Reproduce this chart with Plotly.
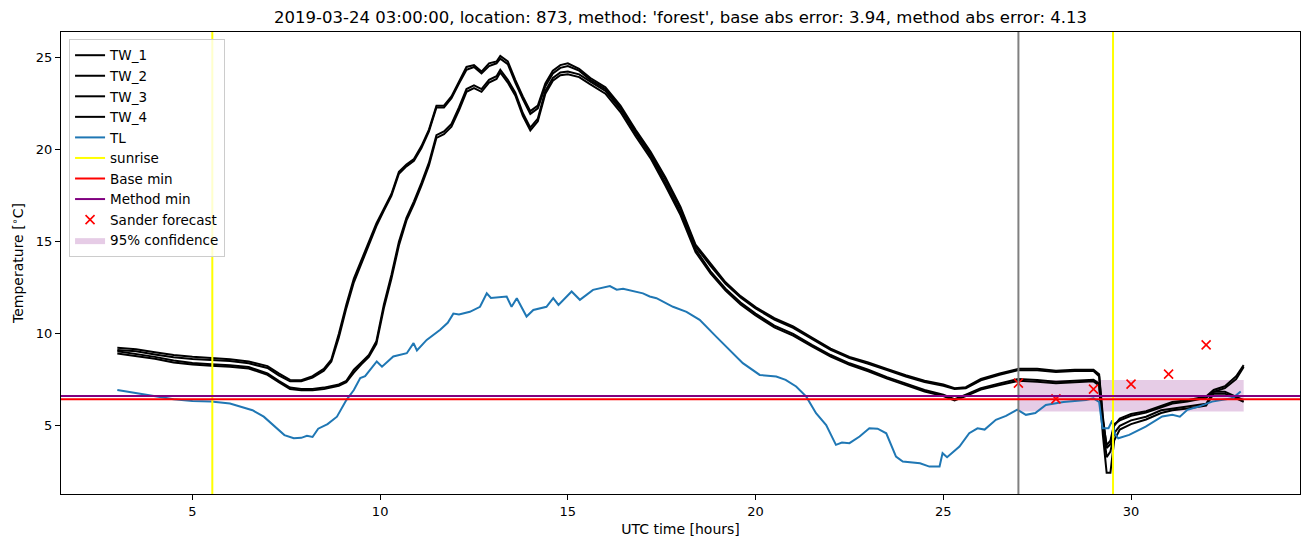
import plotly.graph_objects as go

# ---------------- data ----------------
tw_hours = [3.0, 3.5, 4.0, 4.5, 5.0, 5.5, 6.0, 6.5, 7.0, 7.3,
            7.6, 7.9, 8.2, 8.5, 8.7, 8.9, 9.1, 9.3, 9.5, 9.7,
            9.9, 10.1, 10.3, 10.5, 10.7, 10.9, 11.1, 11.3, 11.5, 11.7,
            11.9, 12.1, 12.3, 12.5, 12.7, 12.9, 13.1, 13.2, 13.4, 13.6,
            13.8, 14.0, 14.2, 14.4, 14.6, 14.8, 15.0, 15.3, 15.6, 16.0,
            16.4, 16.8, 17.2, 17.6, 18.0, 18.4, 18.8, 19.2, 19.6, 20.0,
            20.5, 21.0, 21.5, 22.0, 22.5, 23.0, 23.5, 24.0, 24.5, 25.0,
            25.3, 25.6, 26.0, 26.5, 27.0, 27.5, 28.0, 28.5, 29.0, 29.15,
            29.25, 29.35, 29.45, 29.55, 29.7, 30.0, 30.4, 30.8, 31.1, 31.5,
            32.0, 32.2, 32.5, 32.8, 33.0]

tw_1 = [9.25, 9.17, 9.0, 8.85, 8.75, 8.68, 8.62, 8.5, 8.25, 7.85,
        7.5, 7.48, 7.7, 8.1, 8.6, 10.0, 11.6, 13.0, 14.0, 15.0,
        16.0, 16.8, 17.6, 18.8, 19.2, 19.5, 20.2, 21.1, 22.4, 22.4,
        22.9, 23.7, 24.5, 24.6, 24.25, 24.7, 24.8, 25.1, 24.8, 23.8,
        22.9, 22.1, 22.4, 23.6, 24.3, 24.6, 24.7, 24.4, 23.9, 23.4,
        22.4, 21.1, 19.9, 18.5, 16.9, 14.85, 13.8, 12.8, 12.05, 11.45,
        10.85, 10.4, 9.8, 9.2, 8.75, 8.45, 8.1, 7.75, 7.45, 7.25,
        7.05, 7.1, 7.55, 7.85, 8.1, 8.1, 8.0, 8.05, 8.05, 7.8,
        5.5, 3.8, 4.0, 5.0, 5.4, 5.65, 5.8, 6.1, 6.3, 6.4,
        6.6, 6.95, 7.15, 7.7, 8.3]

tw_2 = [9.13, 9.05, 8.88, 8.73, 8.63, 8.57, 8.52, 8.4, 8.15, 7.75,
        7.42, 7.42, 7.62, 8.0, 8.5, 9.8, 11.4, 12.8, 13.85, 14.85,
        15.85, 16.7, 17.5, 18.7, 19.1, 19.4, 20.1, 21.0, 22.3, 22.3,
        22.8, 23.6, 24.35, 24.5, 24.15, 24.55, 24.7, 24.95, 24.65, 23.65,
        22.75, 21.95, 22.25, 23.45, 24.15, 24.45, 24.55, 24.3, 23.8, 23.3,
        22.3, 21.0, 19.8, 18.4, 16.8, 14.75, 13.7, 12.72, 11.98, 11.38,
        10.78, 10.33, 9.73, 9.13, 8.68, 8.38, 8.03, 7.68, 7.38, 7.18,
        7.0, 7.05, 7.48, 7.78, 8.03, 8.03, 7.93, 7.98, 7.98, 7.7,
        5.3, 3.95, 4.2, 5.1, 5.3, 5.55, 5.72, 6.02, 6.22, 6.32,
        6.52, 6.85, 7.05, 7.55, 8.2]

tw_3 = [9.05, 8.9, 8.75, 8.55, 8.42, 8.35, 8.3, 8.2, 7.85, 7.45,
        7.08, 7.0, 7.0, 7.08, 7.15, 7.25, 7.45, 8.05, 8.45, 8.85,
        9.6, 11.6, 13.2, 15.0, 16.3, 17.2, 18.2, 19.3, 20.8, 21.0,
        21.4, 22.3, 23.3, 23.5, 23.3, 23.8, 24.0, 24.35, 23.8, 23.1,
        22.0, 21.2, 21.7, 23.2, 23.9, 24.2, 24.25, 24.1, 23.7, 23.2,
        22.2, 20.9, 19.7, 18.2, 16.6, 14.6, 13.4, 12.45, 11.7, 11.1,
        10.45, 10.0, 9.4, 8.85, 8.4, 8.05, 7.65, 7.3, 6.95, 6.7,
        6.45, 6.7, 7.05, 7.3, 7.55, 7.5, 7.4, 7.45, 7.5, 7.3,
        5.0, 3.3, 3.6, 4.6, 5.0, 5.3, 5.5, 5.85, 5.95, 6.05,
        6.2, 6.85, 6.85, 6.6, 6.4]

tw_4 = [8.93, 8.8, 8.65, 8.45, 8.33, 8.27, 8.22, 8.12, 7.77, 7.37,
        7.0, 6.93, 6.93, 7.01, 7.08, 7.18, 7.38, 7.9, 8.35, 8.75,
        9.45, 11.4, 13.0, 14.8, 16.15, 17.05, 18.05, 19.15, 20.65, 20.85,
        21.25, 22.15, 23.15, 23.35, 23.15, 23.65, 23.85, 24.2, 23.65, 22.95,
        21.85, 21.05, 21.55, 23.05, 23.75, 24.05, 24.1, 23.95, 23.55, 23.05,
        22.05, 20.75, 19.55, 18.05, 16.45, 14.45, 13.28, 12.35, 11.6, 11.0,
        10.35, 9.9, 9.32, 8.77, 8.32, 7.97, 7.57, 7.22, 6.87, 6.62,
        6.38, 6.62, 6.97, 7.22, 7.45, 7.4, 7.32, 7.37, 7.42, 7.2,
        4.5, 2.45, 2.45, 4.2, 4.8, 5.1, 5.35, 5.7, 5.85, 5.95,
        6.1, 6.75, 6.75, 6.5, 6.3]

tl_hours = [3.0, 3.3, 3.6, 4.0, 4.5, 5.0, 5.5, 6.0, 6.3, 6.6,
            6.9, 7.2, 7.45, 7.7, 7.9, 8.05, 8.2, 8.35, 8.6, 8.85,
            9.1, 9.3, 9.47, 9.6, 9.73, 9.91, 10.05, 10.35, 10.71, 10.89,
            10.98, 11.24, 11.6, 11.8, 11.95, 12.1, 12.39, 12.66, 12.84, 12.95,
            13.37, 13.5, 13.64, 13.9, 14.08, 14.43, 14.61, 14.75, 15.1, 15.32,
            15.67, 16.12, 16.3, 16.47, 17.0, 17.18, 17.36, 17.8, 18.16, 18.51,
            18.95, 19.22, 19.66, 20.11, 20.55, 20.8, 21.08, 21.35, 21.61, 21.88,
            22.14, 22.3, 22.5, 22.77, 23.03, 23.25, 23.48, 23.74, 23.92, 24.38,
            24.63, 24.9, 24.98, 25.1, 25.43, 25.69, 25.91, 26.1, 26.4, 26.67,
            26.97, 27.2, 27.45, 27.73, 28.2, 28.8, 29.0, 29.15, 29.24, 29.4,
            29.5, 29.56, 29.66, 29.95, 30.39, 30.83, 31.1, 31.3, 31.5, 31.8,
            32.16, 32.4, 32.7, 32.92]

tl = [6.95, 6.85, 6.75, 6.62, 6.45, 6.35, 6.32, 6.22, 6.05, 5.85,
      5.5, 4.95, 4.5, 4.33, 4.35, 4.46, 4.4, 4.85, 5.1, 5.5,
      6.4, 6.95, 7.6, 7.7, 8.05, 8.5, 8.22, 8.77, 8.95, 9.5,
      9.1, 9.67, 10.22, 10.6, 11.1, 11.05, 11.2, 11.47, 12.2, 11.95,
      12.03, 11.47, 11.94, 10.94, 11.3, 11.47, 11.94, 11.57, 12.3, 11.85,
      12.39, 12.6, 12.4, 12.45, 12.2, 12.03, 11.94, 11.47, 11.2, 10.76,
      9.85, 9.31, 8.41, 7.77, 7.68, 7.5, 7.14, 6.59, 5.69, 5.05,
      3.97, 4.1, 4.06, 4.42, 4.87, 4.85, 4.6, 3.33, 3.06, 2.97,
      2.79, 2.79, 3.52, 3.3, 3.88, 4.6, 4.87, 4.8, 5.33, 5.54,
      5.88, 5.6, 5.7, 6.14, 6.3, 6.41, 6.5, 6.3, 4.87, 4.87,
      5.3, 4.6, 4.33, 4.51, 4.96, 5.51, 5.6, 5.5, 5.87, 6.05,
      6.32, 6.41, 6.5, 6.87]

sunrise_hours = [5.53, 29.52]
forecast_start = 27.0
base_min = 6.45
method_min = 6.63

sander_hours = [27, 28, 29, 30, 31, 32]
sander_values = [7.32, 6.47, 7.0, 7.27, 7.81, 9.40]

conf_hours = [27, 28, 29, 30, 31, 32, 33]
conf_lower = [5.78, 5.78, 5.78, 5.78, 5.78, 5.78, 5.78]
conf_upper = [7.5, 7.5, 7.5, 7.5, 7.5, 7.5, 7.5]

title = ("2019-03-24 03:00:00, location: 873, method: 'forest', "
         "base abs error: 3.94, method abs error: 4.13")

# ---------------- figure ----------------
FONT = "DejaVu Sans"
fig = go.Figure()

# confidence band (drawn first, below lines)
fig.add_trace(go.Scatter(x=conf_hours, y=conf_lower, mode="lines",
                         line=dict(width=0), showlegend=False, hoverinfo="skip"))
fig.add_trace(go.Scatter(x=conf_hours, y=conf_upper, mode="lines",
                         line=dict(width=0), fill="tonexty",
                         fillcolor="rgba(128,0,128,0.2)",
                         name="95% confidence", legendrank=1010))

for i, (name, vals) in enumerate([("TW_1", tw_1), ("TW_2", tw_2),
                                   ("TW_3", tw_3), ("TW_4", tw_4)]):
    fig.add_trace(go.Scatter(x=tw_hours, y=vals, mode="lines", name=name,
                             line=dict(color="black", width=2),
                             legendrank=1000 + i))

fig.add_trace(go.Scatter(x=tl_hours, y=tl, mode="lines", name="TL",
                         line=dict(color="#1f77b4", width=2), legendrank=1004))

# legend proxies for reference lines
for i, (name, col) in enumerate([("sunrise", "yellow"), ("Base min", "red"),
                                  ("Method min", "purple")]):
    fig.add_trace(go.Scatter(x=[None], y=[None], mode="lines", name=name,
                             line=dict(color=col, width=2), legendrank=1005 + i))

# vertical / horizontal reference lines
for s in sunrise_hours:
    fig.add_shape(type="line", xref="x", yref="y domain", x0=s, x1=s, y0=0, y1=1,
                  line=dict(color="yellow", width=2), layer="above")
fig.add_shape(type="line", xref="x", yref="y domain", x0=forecast_start,
              x1=forecast_start, y0=0, y1=1,
              line=dict(color="grey", width=2), layer="above")
fig.add_shape(type="line", xref="x domain", yref="y", x0=0, x1=1,
              y0=base_min, y1=base_min, line=dict(color="red", width=2), layer="above")
fig.add_shape(type="line", xref="x domain", yref="y", x0=0, x1=1,
              y0=method_min, y1=method_min, line=dict(color="purple", width=2),
              layer="above")

fig.add_trace(go.Scatter(x=sander_hours, y=sander_values, mode="markers",
                         name="Sander forecast",
                         marker=dict(symbol="x-thin", size=9,
                                     line=dict(color="red", width=1.6), color="red"),
                         legendrank=1008))

fig.update_layout(
    width=1310, height=547,
    margin=dict(l=61, r=10, t=32, b=53),
    paper_bgcolor="white", plot_bgcolor="white",
    font=dict(family=FONT, size=13, color="black"),
    title=dict(text=title, x=0.5, xref="paper", xanchor="center",
               y=1 - 17 / 547, yanchor="middle", font=dict(size=16.5)),
    showlegend=True,
    legend=dict(x=0.0065, y=0.985, xanchor="left", yanchor="top",
                bgcolor="rgba(255,255,255,0.8)", bordercolor="#cccccc",
                borderwidth=1, font=dict(size=13.5), itemwidth=30,
                tracegroupgap=0, traceorder="normal"),
)
fig.update_xaxes(range=[1.5, 34.5], tickvals=[5, 10, 15, 20, 25, 30],
                 showgrid=False, zeroline=False, showline=True, mirror=True,
                 linecolor="black", linewidth=1, ticks="outside", ticklen=5,
                 tickwidth=1, tickcolor="black",
                 title=dict(text="UTC time [hours]", standoff=6,
                            font=dict(size=14)),
                 tickfont=dict(size=13))
fig.update_yaxes(range=[1.3, 26.4], tickvals=[5, 10, 15, 20, 25],
                 showgrid=False, zeroline=False, showline=True, mirror=True,
                 linecolor="black", linewidth=1, ticks="outside", ticklen=5,
                 tickwidth=1, tickcolor="black",
                 title=dict(text="Temperature [<sup>∘</sup>C]", standoff=8,
                            font=dict(size=14)),
                 tickfont=dict(size=13))

fig.write_html("out.html")
